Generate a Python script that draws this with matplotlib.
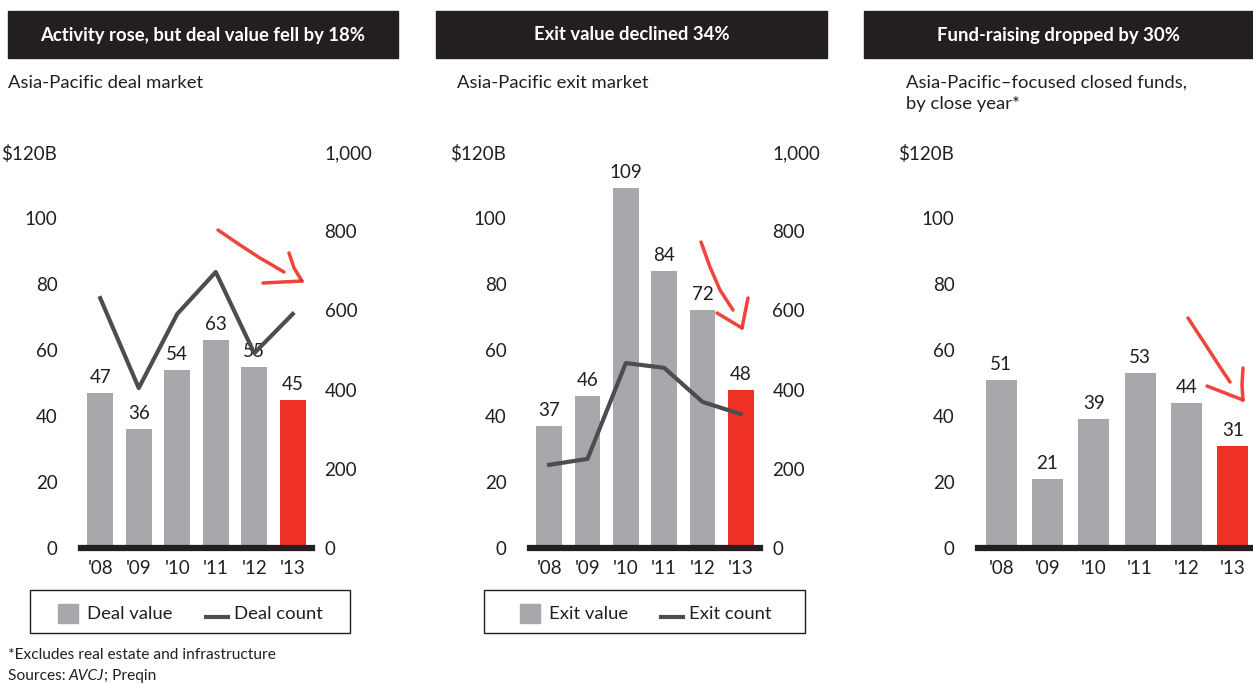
import numpy as np
import matplotlib
matplotlib.use("Agg")
import matplotlib.pyplot as plt
from matplotlib.patches import Rectangle
from matplotlib.lines import Line2D

plt.rcParams['font.family'] = ['Lato', 'DejaVu Sans']

# data
years = ["'08", "'09", "'10", "'11", "'12", "'13"]
deal_value = [47, 36, 54, 63, 55, 45]
deal_count = [631, 404, 591, 697, 492, 591]
exit_value = [37, 46, 109, 84, 72, 48]
exit_count = [210, 225, 467, 455, 369, 338]
fund_value = [51, 21, 39, 53, 44, 31]

titles = ["Activity rose, but deal value fell by 18%",
          "Exit value declined 34%",
          "Fund-raising dropped by 30%"]
subtitles = ["Asia-Pacific deal market",
             "Asia-Pacific exit market",
             "Asia-Pacific\u2013focused closed funds,\nby close year*"]
left_ticks = [0, 20, 40, 60, 80, 100, 120]
left_labels = ["0", "20", "40", "60", "80", "100", "$120B"]
right_ticks = [0, 200, 400, 600, 800, 1000]
right_labels = ["0", "200", "400", "600", "800", "1,000"]

GRAY = '#a7a8ac'
RED = '#ee3124'
DARK = '#231f20'
LINE = '#4d4d4f'
TXT = '#231f20'

W, H = 1253, 684
fig = plt.figure(figsize=(W / 100, H / 100), dpi=100)


def fx(x):
    return x / W


def fy(y):
    return 1 - y / H


def panel(x0, x1, values, counts=None):
    ax = fig.add_axes([fx(x0), fy(548), fx(x1 - x0), fy(152) - fy(548)])
    x = np.arange(len(values))
    colors = [GRAY] * (len(values) - 1) + [RED]
    bars = ax.bar(x, values, width=0.67, color=colors, zorder=2)
    for b, v in zip(bars, values):
        ax.annotate(str(v), (b.get_x() + b.get_width() / 2, v),
                    xytext=(0, 5), textcoords='offset points',
                    ha='center', va='bottom', fontsize=13.5, color=TXT)
    ax.set_xlim(-0.5, len(values) - 0.5)
    ax.set_ylim(0, 120)
    ax.set_yticks(left_ticks)
    ax.set_yticklabels(left_labels)
    ax.set_xticks(x)
    ax.set_xticklabels(years)
    ax.tick_params(length=0, labelsize=13.5, labelcolor=TXT)
    ax.tick_params(axis='y', pad=17)
    ax.tick_params(axis='x', pad=9)
    for s in ['top', 'left', 'right']:
        ax.spines[s].set_visible(False)
    ax.spines['bottom'].set_linewidth(4.5)
    ax.spines['bottom'].set_color(DARK)
    ax.spines['bottom'].set_zorder(5)
    ax.patch.set_alpha(0)
    if counts is not None:
        ax2 = ax.twinx()
        ax2.plot(x, counts, color=LINE, lw=3, zorder=3)
        ax2.set_ylim(0, 1000)
        ax2.set_yticks(right_ticks)
        ax2.set_yticklabels(right_labels)
        ax2.tick_params(length=0, labelsize=13.5, labelcolor=TXT, pad=9)
        for s in ax2.spines.values():
            s.set_visible(False)
    return ax


panel(81, 312, deal_value, deal_count)
panel(530, 760, exit_value, exit_count)
panel(978, 1256, fund_value)

# title boxes and subtitles
boxes = [(8, 398), (436, 827), (864, 1253)]
sub_x = [8, 457, 906]
for (b0, b1), t, s, sx in zip(boxes, titles, subtitles, sub_x):
    fig.patches.append(Rectangle((fx(b0), fy(58)), fx(b1 - b0), fy(11) - fy(58),
                                 transform=fig.transFigure, color=DARK))
    fig.text(fx((b0 + b1) / 2), fy(35), t, color='white', fontsize=13.3,
             fontweight='bold', ha='center', va='center')
    fig.text(fx(sx), fy(75), s, color=TXT, fontsize=13.3, ha='left', va='top',
             linespacing=1.35)

# legends
legends = [((30, 350), (58, 78), "Deal value", (206, 228), "Deal count"),
           ((484, 805), (520, 540), "Exit value", (661, 683), "Exit count")]
for (l0, l1), (s0, s1), lab1, (m0, m1), lab2 in legends:
    fig.patches.append(Rectangle((fx(l0), fy(633)), fx(l1 - l0), fy(590) - fy(633),
                                 transform=fig.transFigure, fill=False,
                                 edgecolor=DARK, lw=1))
    fig.patches.append(Rectangle((fx(s0), fy(623)), fx(s1 - s0), fy(604) - fy(623),
                                 transform=fig.transFigure, color=GRAY))
    fig.text(fx(s1 + 9), fy(614), lab1, fontsize=13.3, color=TXT, va='center')
    fig.lines.append(Line2D([fx(m0), fx(m1)], [fy(617), fy(617)],
                            transform=fig.transFigure, color=LINE, lw=3))
    fig.text(fx(m1 + 6), fy(614), lab2, fontsize=13.3, color=TXT, va='center')

# footnotes
fig.text(fx(8), fy(655), "*Excludes real estate and infrastructure",
         fontsize=11.2, color=TXT, va='center')
fig.text(fx(8), fy(676), "Sources: ", fontsize=11.2, color=TXT, va='center')
fig.text(fx(68), fy(676), "AVCJ", fontsize=11.2, color=TXT, va='center',
         style='italic')
fig.text(fx(104), fy(676), "; Preqin", fontsize=11.2, color=TXT, va='center')


# hand-drawn red arrows
def scribble(pts, lw=2.5):
    xs, ys = zip(*pts)
    fig.lines.append(Line2D([fx(v) for v in xs], [fy(v) for v in ys],
                            transform=fig.transFigure, color=RED, lw=lw,
                            solid_capstyle='round', solid_joinstyle='round',
                            alpha=0.9))


scribble([(218, 230), (240, 245), (260, 258), (284, 272)])
scribble([(263, 283), (302, 281)])
scribble([(289, 253), (294, 268), (302, 281)])

scribble([(701, 242), (710, 267), (720, 290), (733, 310)])
scribble([(717, 313), (742, 328)])
scribble([(748, 298), (745, 313), (742, 328)])

scribble([(1188, 318), (1207, 347), (1220, 367), (1230, 382)])
scribble([(1207, 386), (1243, 400)])
scribble([(1243, 368), (1242, 385), (1243, 400)])

fig.savefig('out.png', dpi=100)
